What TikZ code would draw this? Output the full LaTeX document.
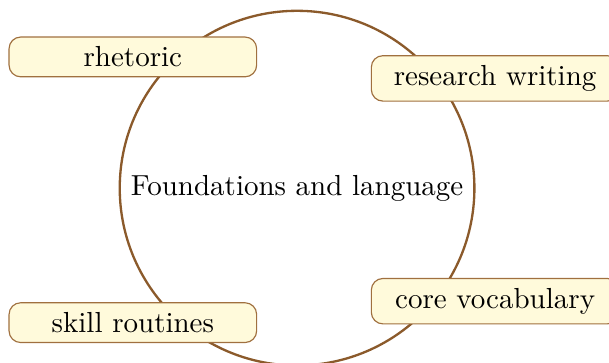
\documentclass[tikz,border=0pt]{standalone}
\usepackage{tikz}
\usetikzlibrary{positioning,shapes.geometric}
\definecolor{ringbrown}{HTML}{8B5A2B}
\definecolor{boxedge}{HTML}{A0703F}
\definecolor{boxfill}{HTML}{FFFADB}

\begin{document}
\begin{tikzpicture}[every node/.style={font=\normalsize},
  hub/.style={draw=ringbrown,circle,thick},
  topic/.style={draw=boxedge,rounded corners,fill=boxfill,minimum width=3cm}]
\useasboundingbox (-3.60,-2.11) rectangle (3.78,2.28);
\node[hub] (core) at (0,0) {Foundations and language};
\node[topic] (rhet) at (-1.99,1.59) {rhetoric};
\node[topic] (res) at (2.40,1.33) {research writing};
\node[topic] (skill) at (-1.99,-1.63) {skill routines};
\node[topic] (vocab) at (2.40,-1.37) {core vocabulary};
\end{tikzpicture}
\end{document}
